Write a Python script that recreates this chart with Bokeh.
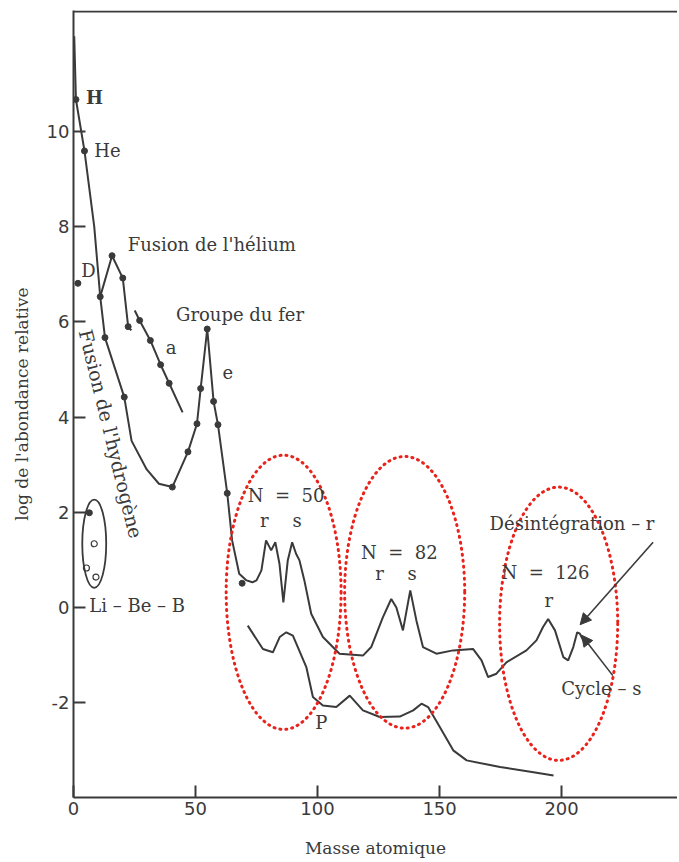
from bokeh.plotting import figure
from bokeh.models import Range1d, FixedTicker, Span, Arrow, NormalHead, Label
from bokeh.core.properties import value
from bokeh.embed import file_html
from bokeh.resources import INLINE

# ---- data ----
# main abundance curve (H -> Fe peak -> heavy nuclei)
main_x = [0.3, 1.0, 4.5, 8.5, 10.95, 12.9, 20.8, 23.8, 30.0, 35.0, 40.5, 46.9, 50.6, 52.1, 54.8,
          57.4, 59.2, 63.0, 65.0, 67.9, 70.9, 73.3, 75.0, 77.0, 78.9, 81.0, 82.7, 84.4, 86.0,
          87.8, 89.6, 91.2, 92.6, 94.6, 97.4, 102.2, 109.0, 118.6, 122.0, 126.8, 130.2, 132.3,
          135.0, 138.0, 140.5, 143.2, 148.7, 155.5, 163.7, 167.2, 169.9, 173.3, 177.4, 185.6,
          189.7, 192.4, 194.5, 197.3, 200.7, 202.7, 204.8, 206.4, 207.5, 209.0]
main_y = [12.0, 10.67, 9.59, 8.0, 6.53, 5.67, 4.42, 3.5, 2.9, 2.6, 2.53, 3.27, 3.86, 4.6, 5.85,
          4.33, 3.84, 2.4, 1.41, 0.71, 0.57, 0.53, 0.57, 0.78, 1.41, 1.2, 1.37, 0.92, 0.11,
          0.99, 1.37, 1.13, 0.99, 0.57, -0.13, -0.62, -0.97, -1.01, -0.83, -0.2, 0.18, 0.0,
          -0.48, 0.36, -0.27, -0.83, -0.97, -0.9, -0.87, -1.11, -1.46, -1.39, -1.15, -0.9,
          -0.69, -0.41, -0.24, -0.48, -1.04, -1.11, -0.83, -0.52, -0.55, -0.7]
main_mx = [1.0, 4.5, 10.95, 12.9, 20.8, 40.5, 46.9, 50.6, 52.1, 54.8, 57.4, 59.2, 63.0, 69.1]
main_my = [10.67, 9.59, 6.53, 5.67, 4.42, 2.53, 3.27, 3.86, 4.6, 5.85, 4.33, 3.84, 2.4, 0.51]

# helium-burning branch (two segments)
he1_x = [10.95, 15.8, 20.2, 22.4, 23.7]
he1_y = [6.53, 7.39, 6.92, 5.9, 5.82]
he2_x = [25.1, 27.1, 31.5, 35.7, 39.2, 44.7]
he2_y = [6.24, 6.03, 5.61, 5.1, 4.71, 4.1]
he_mx = [15.8, 20.2, 22.4, 27.1, 31.5, 35.7, 39.2]
he_my = [7.39, 6.92, 5.9, 6.03, 5.61, 5.1, 4.71]

# deuterium
d_x = [1.8]
d_y = [6.81]

# Li-Be-B
libeb_fx = [6.5]
libeb_fy = [1.99]
libeb_ox = [8.5, 5.3, 9.2]
libeb_oy = [1.34, 0.83, 0.64]

# p-process curve
p_x = [71.4, 77.6, 81.7, 84.5, 87.2, 89.9, 95.4, 98.1, 102.2, 107.7, 113.2, 118.6, 125.5, 133.7,
       139.2, 142.6, 145.3, 150.1, 155.6, 161.1, 174.8, 188.5, 196.7]
p_y = [-0.38, -0.87, -0.94, -0.62, -0.52, -0.59, -1.25, -1.88, -2.06, -2.09, -1.85, -2.16, -2.3,
       -2.29, -2.16, -2.02, -2.09, -2.51, -3.0, -3.21, -3.35, -3.46, -3.53]

# tick values
x_ticks = [0, 50, 100, 150, 200]
y_ticks = [-2, 0, 2, 4, 6, 8, 10]

# red highlight ellipses (centre x, centre y, width, height)
ell_x = [86.1, 135.7, 198.8]
ell_y = [0.32, 0.32, -0.34]
ell_w = [47.1, 49.2, 48.4]
ell_h = [5.76, 5.71, 5.74]

INK = "#3a3a3a"
SERIF = "DejaVu Serif"

p = figure(width=677, height=860, output_backend="svg", toolbar_location=None,
           x_range=Range1d(0, 247.5), y_range=Range1d(-3.99, 12.54),
           min_border_left=73, min_border_top=10, min_border_bottom=63, min_border_right=0,
           background_fill_color="white", border_fill_color="white")
p.outline_line_color = None
p.grid.visible = False

for ax in (p.xaxis[0], p.yaxis[0]):
    ax.axis_line_color = INK
    ax.axis_line_width = 2
    ax.major_tick_line_color = INK
    ax.major_tick_line_width = 2
    ax.major_tick_in = 12
    ax.major_tick_out = 0
    ax.minor_tick_line_color = None
    ax.major_label_text_font = "DejaVu Sans"
    ax.major_label_text_font_size = "18px"
    ax.major_label_text_color = INK
    ax.major_label_standoff = 4
    ax.axis_label_text_font = SERIF
    ax.axis_label_text_font_style = "normal"
    ax.axis_label_text_font_size = "17px"
    ax.axis_label_text_color = INK

p.xaxis.ticker = FixedTicker(ticks=x_ticks)
p.yaxis.ticker = FixedTicker(ticks=y_ticks)
p.yaxis.major_label_overrides = {t: str(t) for t in y_ticks}
p.xaxis.axis_label = "Masse atomique"
p.yaxis.axis_label = "log de l'abondance relative"
p.xaxis.axis_label_standoff = 20
p.yaxis.axis_label_standoff = 12

p.add_layout(Span(location=12.52, dimension="width", line_color=INK, line_width=2))

# curves
p.line(main_x, main_y, line_color=INK, line_width=2)
p.line(he1_x, he1_y, line_color=INK, line_width=2)
p.line(he2_x, he2_y, line_color=INK, line_width=2)
p.line(p_x, p_y, line_color=INK, line_width=2)

# markers
p.scatter(main_mx, main_my, size=6, color=INK)
p.scatter(he_mx, he_my, size=6, color=INK)
p.scatter(d_x, d_y, size=6, color=INK)
p.scatter(libeb_fx, libeb_fy, size=6, color=INK)
p.scatter(libeb_ox, libeb_oy, size=6, fill_color=None, line_color=INK, line_width=1.2)
p.ellipse(x=[8.5], y=[1.34], width=[9.8], height=[1.85], fill_color=None,
          line_color=INK, line_width=1.8)

# red dotted ellipses
p.ellipse(x=ell_x, y=ell_y, width=ell_w, height=ell_h, fill_color=None,
          line_color="#e8231c", line_width=3, line_dash="1 5", line_cap="round")

# arrows
for xs, ys, xe, ye in [(237.5, 1.37, 207.6, -0.36), (221.0, -1.43, 208.2, -0.58)]:
    p.add_layout(Arrow(end=NormalHead(size=11, fill_color=INK, line_color=INK),
                       x_start=xs, y_start=ys, x_end=xe, y_end=ye,
                       line_color=INK, line_width=1.6))

def lab(x, y, t, align="left", size="18px", angle=0.0, style="normal"):
    p.add_layout(Label(x=x, y=y, text=t, text_font=SERIF, text_font_size=size,
                       text_color=INK, text_align=align, text_baseline="middle",
                       angle=angle, text_font_style=style))

NB = "\u00a0"
lab(5.1, 10.72, "H", style="bold")
lab(8.5, 9.59, "He")
lab(3.2, 7.08, "D")
lab(22.2, 7.63, "Fusion de l'hélium")
lab(42.0, 6.16, "Groupe du fer")
lab(40.0, 5.46, "a", align="center")
lab(63.2, 4.94, "e", align="center")
lab(15.3, 3.65, "Fusion de l'hydrogène", align="center", size="19px", angle=-1.33)
lab(6.5, 0.04, "Li" + NB + "–" + NB + "Be" + NB + "–" + NB + "B")
lab(87.1, 2.35, "N" + NB * 2 + "=" + NB * 2 + "50", align="center")
lab(78.2, 1.83, "r", align="center")
lab(91.6, 1.83, "s", align="center")
lab(101.5, -2.41, "P", align="center")
lab(133.5, 1.16, "N" + NB * 2 + "=" + NB * 2 + "82", align="center")
lab(125.4, 0.71, "r", align="center")
lab(138.8, 0.71, "s", align="center")
lab(170.5, 1.76, "Désintégration" + NB + "–" + NB + "r")
lab(193.4, 0.74, "N" + NB * 2 + "=" + NB * 2 + "126", align="center")
lab(194.8, 0.15, "r", align="center")
lab(199.9, -1.70, "Cycle" + NB + "–" + NB + "s")

open("out.html", "w").write(file_html(p, INLINE))
